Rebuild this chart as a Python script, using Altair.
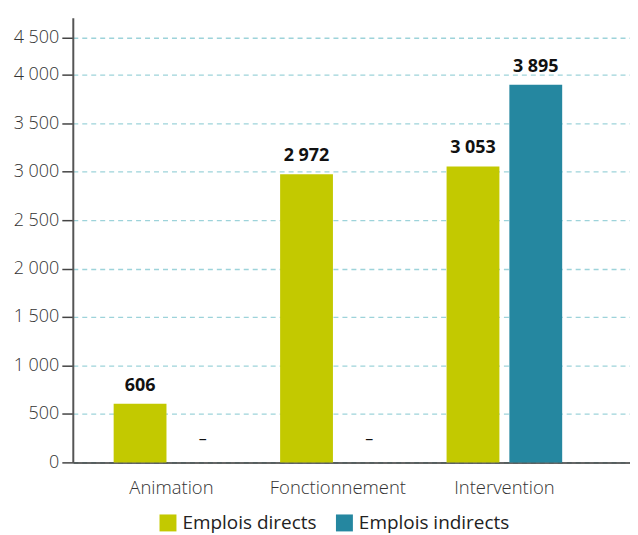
import altair as alt
import pandas as pd

categories = ["Animation", "Fonctionnement", "Intervention"]
series = ["Emplois directs", "Emplois indirects"]
emplois_directs = [606, 2972, 3053]
emplois_indirects = [None, None, 3895]
y_ticks = [0, 500, 1000, 1500, 2000, 2500, 3000, 3500, 4000, 4500]
colors = ["#c3c900", "#2587a0"]

rows = []
for c, d, i in zip(categories, emplois_directs, emplois_indirects):
    for s, v in zip(series, [d, i]):
        rows.append({
            "cat": c,
            "serie": s,
            "value": v,
            "label": f"{v:,}".replace(",", " ") if v is not None else "–",
            "ypos": v if v is not None else 0,
        })
df = pd.DataFrame(rows)

FONT = "Open Sans"

yscale = alt.Scale(domain=[0, 4000, 4500, 4600], range=[446, 57, 20, 0], nice=False, zero=False)

base = alt.Chart(df).encode(
    x=alt.X(
        "cat:N",
        sort=categories,
        scale=alt.Scale(paddingInner=0, paddingOuter=0.1737, align=0.267),
        axis=alt.Axis(
            title=None, ticks=False, labelAngle=0, labelPadding=16,
            labelFontSize=18.5, labelColor="#333", labelFont=FONT, labelFontWeight=300,
            domainColor="#333", domainWidth=1.5, grid=False,
        ),
    ),
    xOffset=alt.XOffset("serie:N", sort=series,
                        scale=alt.Scale(paddingInner=0.1587, paddingOuter=0.405)),
)

bars = base.mark_bar().encode(
    y=alt.Y(
        "value:Q",
        scale=yscale,
        axis=alt.Axis(
            title=None, values=y_ticks,
            labelExpr="replace(format(datum.value, ','), ',', ' ')",
            labelFontSize=18, labelColor="#333", labelFont=FONT, labelFontWeight=300,
            labelPadding=3, tickSize=11, tickColor="#444", tickWidth=1.5,
            domainColor="#555", domainWidth=2,
            grid=True, gridColor="#9dd3da", gridDash=[5, 4], gridWidth=1.3,
            minExtent=58, maxExtent=58,
        ),
    ),
    color=alt.Color(
        "serie:N",
        scale=alt.Scale(domain=series, range=colors),
        legend=alt.Legend(
            title=None, orient="none", legendX=86, legendY=497, direction="horizontal",
            symbolType="square", symbolSize=289, symbolStrokeWidth=0,
            labelFontSize=19, labelFont=FONT, labelColor="#222", labelFontWeight=400,
            labelOffset=5, columnPadding=18,
        ),
    ),
)

labels = base.transform_filter("isValid(datum.value)").mark_text(
    dy=-13, baseline="alphabetic", fontSize=18, fontWeight="bold", font=FONT, color="#111"
).encode(y=alt.Y("value:Q", scale=yscale), text="label:N")

dashes = base.transform_filter("!isValid(datum.value)").mark_text(
    dy=-18, baseline="alphabetic", fontSize=16, font=FONT, color="#111"
).encode(y=alt.Y("ypos:Q", scale=yscale), text="label:N")

chart = alt.layer(bars, labels, dashes).properties(
    width=559, height=446,
    padding={"left": 5, "top": 9, "right": 0, "bottom": 0},
).configure_view(stroke=None)

chart.save("out.html", embed_options={"renderer": "svg", "actions": False})
